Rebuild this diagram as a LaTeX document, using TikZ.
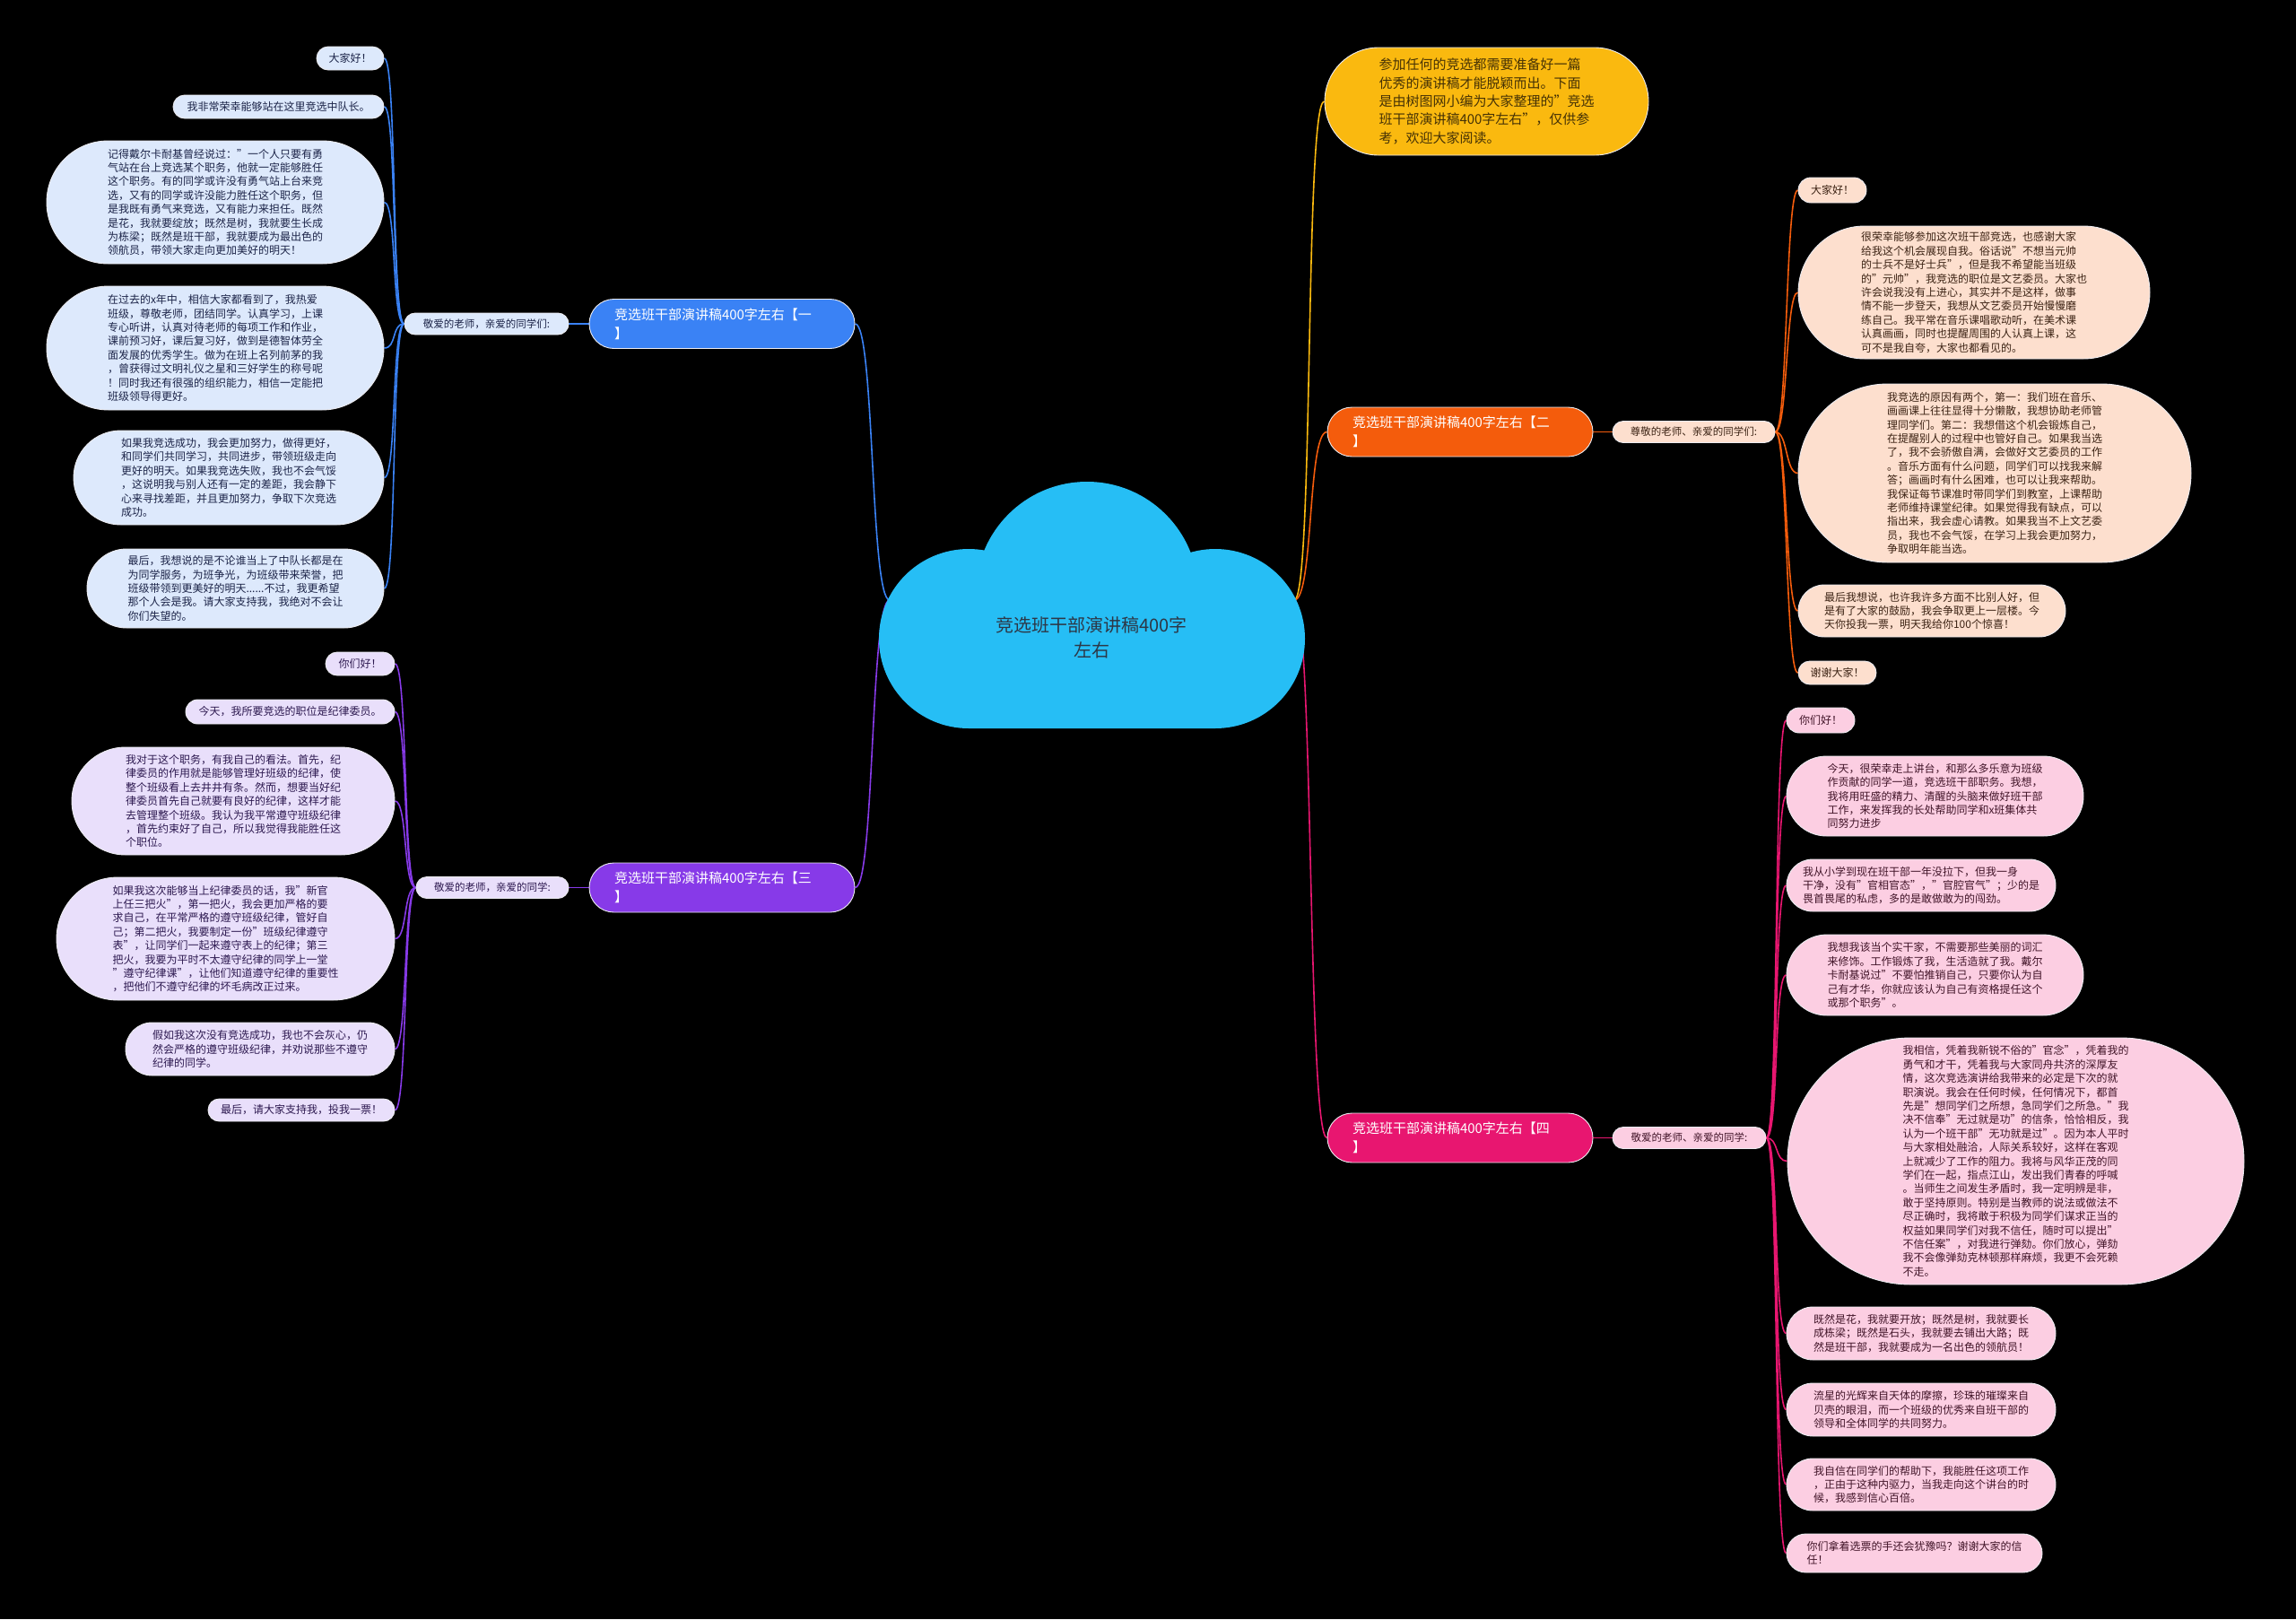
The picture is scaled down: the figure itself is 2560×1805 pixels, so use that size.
\documentclass[tikz,border=0pt]{standalone}
\usepackage{fontspec}
\setmainfont{Noto Sans CJK SC}
\usetikzlibrary{backgrounds}
\definecolor{cloudc}{RGB}{38,190,245}
\definecolor{rootink}{RGB}{45,55,70}
\definecolor{introc}{RGB}{250,185,15}
\definecolor{introink}{RGB}{70,50,5}
\definecolor{bluebr}{RGB}{58,130,245}
\definecolor{bluelf}{RGB}{221,233,252}
\definecolor{blueink}{RGB}{28,36,72}
\definecolor{purpbr}{RGB}{135,58,232}
\definecolor{purplf}{RGB}{233,223,251}
\definecolor{purpink}{RGB}{45,25,80}
\definecolor{orgbr}{RGB}{244,92,12}
\definecolor{orglf}{RGB}{253,223,206}
\definecolor{orgink}{RGB}{60,35,20}
\definecolor{pinkbr}{RGB}{232,22,112}
\definecolor{pinklf}{RGB}{252,206,226}
\definecolor{pinkink}{RGB}{65,20,40}
\definecolor{rimc}{RGB}{235,235,240}
\tikzset{
  pill/.style 2 args={draw=rimc,line width=0.9pt,minimum width=#1,minimum height=#2,
    rounded corners=#2*0.5,inner sep=0pt,align=left},
  leaf/.style={font=\fontsize{12}{15.4}\selectfont},
  blueleaf/.style={leaf,fill=bluelf,text=blueink},
  purpleaf/.style={leaf,fill=purplf,text=purpink},
  orgleaf/.style={leaf,fill=orglf,text=orgink},
  pinkleaf/.style={leaf,fill=pinklf,text=pinkink},
  branch/.style={pill={296}{55},fill=#1,text=white,text width=240,
    font=\fontsize{15}{21}\selectfont},
  sublabel/.style={font=\fontsize{11.5}{13}\selectfont},
  link/.style={draw=#1,line width=1.6pt},
}

\begin{document}
\begin{tikzpicture}[x=1pt,y=-1pt]
  \useasboundingbox (0,0) rectangle (2560,1805);
  % cloud (root)
  \fill[cloudc] (1080,712) circle[radius=100pt] (1355,712) circle[radius=100pt]
    (1212,661) circle[radius=124pt] (1080,640) rectangle (1355,812);
  \node[font=\fontsize{20}{28}\selectfont,text=rootink,align=center] (root) at (1217,711)
    {竞选班干部演讲稿400字\\左右};
  \coordinate (rootW) at (992,669);
  \coordinate (rootE) at (1443,669);
  % intro
  \node[pill={361}{120},fill=introc,text=introink,font=\fontsize{15}{20.4}\selectfont] (intro) at (1657.5,113)
    {参加任何的竞选都需要准备好一篇\\优秀的演讲稿才能脱颖而出。下面\\是由树图网小编为大家整理的"竞选\\班干部演讲稿400字左右"，仅供参\\考，欢迎大家阅读。};
  % branches
  \node[branch=bluebr] (brA) at (805,361) {竞选班干部演讲稿400字左右【一\\】};
  \node[branch=orgbr] (brB) at (1628,481.5) {竞选班干部演讲稿400字左右【二\\】};
  \node[branch=purpbr] (brC) at (805,989.5) {竞选班干部演讲稿400字左右【三\\】};
  \node[branch=pinkbr] (brD) at (1628,1268.5) {竞选班干部演讲稿400字左右【四\\】};
  % greetings
  \node[pill={183}{24},sublabel,fill=bluelf,text=blueink] (subA) at (542.5,361) {敬爱的老师，亲爱的同学们:};
  \node[pill={181}{24},sublabel,fill=orglf,text=orgink] (subB) at (1888.5,481.5) {尊敬的老师、亲爱的同学们:};
  \node[pill={170}{24},sublabel,fill=purplf,text=purpink] (subC) at (549,989.5) {敬爱的老师，亲爱的同学:};
  \node[pill={171}{24},sublabel,fill=pinklf,text=pinkink] (subD) at (1883.5,1268.5) {敬爱的老师、亲爱的同学:};
  % branch one leaves
  \node[pill={75}{26},blueleaf] (lA1) at (390.5,65) {大家好！};
  \node[pill={235}{26},blueleaf] (lA2) at (310.5,119) {我非常荣幸能够站在这里竞选中队长。};
  \node[pill={376}{137},blueleaf] (lA3) at (240,225.5)
    {记得戴尔卡耐基曾经说过："一个人只要有勇\\气站在台上竞选某个职务，他就一定能够胜任\\这个职务。有的同学或许没有勇气站上台来竞\\选，又有的同学或许没能力胜任这个职务，但\\是我既有勇气来竞选，又有能力来担任。既然\\是花，我就要绽放；既然是树，我就要生长成\\为栋梁；既然是班干部，我就要成为最出色的\\领航员，带领大家走向更加美好的明天！};
  \node[pill={376}{138},blueleaf] (lA4) at (240,388)
    {在过去的x年中，相信大家都看到了，我热爱\\班级，尊敬老师，团结同学。认真学习，上课\\专心听讲，认真对待老师的每项工作和作业，\\课前预习好，课后复习好，做到是德智体劳全\\面发展的优秀学生。做为在班上名列前茅的我\\，曾获得过文明礼仪之星和三好学生的称号呢\\！同时我还有很强的组织能力，相信一定能把\\班级领导得更好。};
  \node[pill={346}{105},blueleaf] (lA5) at (255,532.5)
    {如果我竞选成功，我会更加努力，做得更好，\\和同学们共同学习，共同进步，带领班级走向\\更好的明天。如果我竞选失败，我也不会气馁\\，这说明我与别人还有一定的差距，我会静下\\心来寻找差距，并且更加努力，争取下次竞选\\成功。};
  \node[pill={331}{88},blueleaf] (lA6) at (262.5,656)
    {最后，我想说的是不论谁当上了中队长都是在\\为同学服务，为班争光，为班级带来荣誉，把\\班级带领到更美好的明天......不过，我更希望\\那个人会是我。请大家支持我，我绝对不会让\\你们失望的。};
  % branch three leaves
  \node[pill={77}{26},purpleaf] (lC1) at (401.5,740) {你们好！};
  \node[pill={233}{27},purpleaf] (lC2) at (323.5,793.5) {今天，我所要竞选的职位是纪律委员。};
  \node[pill={360}{120},purpleaf] (lC3) at (260,893)
    {我对于这个职务，有我自己的看法。首先，纪\\律委员的作用就是能够管理好班级的纪律，使\\整个班级看上去井井有条。然而，想要当好纪\\律委员首先自己就要有良好的纪律，这样才能\\去管理整个班级。我认为我平常遵守班级纪律\\，首先约束好了自己，所以我觉得我能胜任这\\个职位。};
  \node[pill={377}{137},purpleaf] (lC4) at (251.5,1046.5)
    {如果我这次能够当上纪律委员的话，我"新官\\上任三把火"，第一把火，我会更加严格的要\\求自己，在平常严格的遵守班级纪律，管好自\\己；第二把火，我要制定一份"班级纪律遵守\\表"，让同学们一起来遵守表上的纪律；第三\\把火，我要为平时不太遵守纪律的同学上一堂\\"遵守纪律课"，让他们知道遵守纪律的重要性\\，把他们不遵守纪律的坏毛病改正过来。};
  \node[pill={300}{59},purpleaf] (lC5) at (290,1169.5)
    {假如我这次没有竞选成功，我也不会灰心，仍\\然会严格的遵守班级纪律，并劝说那些不遵守\\纪律的同学。};
  \node[pill={208}{25},purpleaf] (lC6) at (336,1237.5) {最后，请大家支持我，投我一票！};
  % branch two leaves
  \node[pill={76}{28},orgleaf] (lB1) at (2043,212) {大家好！};
  \node[pill={392}{148},orgleaf] (lB2) at (2201,326)
    {很荣幸能够参加这次班干部竞选，也感谢大家\\给我这个机会展现自我。俗话说"不想当元帅\\的士兵不是好士兵"，但是我不希望能当班级\\的"元帅"，我竞选的职位是文艺委员。大家也\\许会说我没有上进心，其实并不是这样，做事\\情不能一步登天，我想从文艺委员开始慢慢磨\\练自己。我平常在音乐课唱歌动听，在美术课\\认真画画，同时也提醒周围的人认真上课，这\\可不是我自夸，大家也都看见的。};
  \node[pill={438}{199},orgleaf] (lB3) at (2224,527.5)
    {我竞选的原因有两个，第一：我们班在音乐、\\画画课上往往显得十分懒散，我想协助老师管\\理同学们。第二：我想借这个机会锻炼自己，\\在提醒别人的过程中也管好自己。如果我当选\\了，我不会骄傲自满，会做好文艺委员的工作\\。音乐方面有什么问题，同学们可以找我来解\\答；画画时有什么困难，也可以让我来帮助。\\我保证每节课准时带同学们到教室，上课帮助\\老师维持课堂纪律。如果觉得我有缺点，可以\\指出来，我会虚心请教。如果我当不上文艺委\\员，我也不会气馁，在学习上我会更加努力，\\争取明年能当选。};
  \node[pill={298}{58},orgleaf] (lB4) at (2154,681)
    {最后我想说，也许我许多方面不比别人好，但\\是有了大家的鼓励，我会争取更上一层楼。今\\天你投我一票，明天我给你100个惊喜！};
  \node[pill={87}{26},orgleaf] (lB5) at (2048.5,750) {谢谢大家！};
  % branch four leaves
  \node[pill={76}{28},pinkleaf] (lD1) at (2030,803) {你们好！};
  \node[pill={331}{89},pinkleaf] (lD2) at (2157.5,887.5)
    {今天，很荣幸走上讲台，和那么多乐意为班级\\作贡献的同学一道，竞选班干部职务。我想，\\我将用旺盛的精力、清醒的头脑来做好班干部\\工作，来发挥我的长处帮助同学和x班集体共\\同努力进步};
  \node[pill={300}{58},pinkleaf] (lD3) at (2142,987)
    {我从小学到现在班干部一年没拉下，但我一身\\干净，没有"官相官态"，"官腔官气"；少的是\\畏首畏尾的私虑，多的是敢做敢为的闯劲。};
  \node[pill={331}{90},pinkleaf] (lD4) at (2157.5,1087)
    {我想我该当个实干家，不需要那些美丽的词汇\\来修饰。工作锻炼了我，生活造就了我。戴尔\\卡耐基说过"不要怕推销自己，只要你认为自\\己有才华，你就应该认为自己有资格提任这个\\或那个职务"。};
  \node[pill={509}{275},pinkleaf] (lD5) at (2247.5,1294.5)
    {我相信，凭着我新锐不俗的"官念"，凭着我的\\勇气和才干，凭着我与大家同舟共济的深厚友\\情，这次竞选演讲给我带来的必定是下次的就\\职演说。我会在任何时候，任何情况下，都首\\先是"想同学们之所想，急同学们之所急。"我\\决不信奉"无过就是功"的信条，恰恰相反，我\\认为一个班干部"无功就是过"。因为本人平时\\与大家相处融洽，人际关系较好，这样在客观\\上就减少了工作的阻力。我将与风华正茂的同\\学们在一起，指点江山，发出我们青春的呼喊\\。当师生之间发生矛盾时，我一定明辨是非，\\敢于坚持原则。特别是当教师的说法或做法不\\尽正确时，我将敢于积极为同学们谋求正当的\\权益如果同学们对我不信任，随时可以提出"\\不信任案"，对我进行弹劾。你们放心，弹劾\\我不会像弹劾克林顿那样麻烦，我更不会死赖\\不走。};
  \node[pill={300}{59},pinkleaf] (lD6) at (2142,1486.5)
    {既然是花，我就要开放；既然是树，我就要长\\成栋梁；既然是石头，我就要去铺出大路；既\\然是班干部，我就要成为一名出色的领航员！};
  \node[pill={300}{59},pinkleaf] (lD7) at (2142,1571.5)
    {流星的光辉来自天体的摩擦，珍珠的璀璨来自\\贝壳的眼泪，而一个班级的优秀来自班干部的\\领导和全体同学的共同努力。};
  \node[pill={300}{58},pinkleaf] (lD8) at (2142,1655)
    {我自信在同学们的帮助下，我能胜任这项工作\\，正由于这种内驱力，当我走向这个讲台的时\\候，我感到信心百倍。};
  \node[pill={285}{43},pinkleaf] (lD9) at (2134.5,1731.5)
    {你们拿着选票的手还会犹豫吗？谢谢大家的信\\任！};
  % connectors (behind everything)
  \begin{scope}[on background layer]
    \fill[black] (0,0) rectangle (2560,1805);
    \draw[link=introc] (rootE) .. controls +(22,0) and +(-22,0) .. (intro.west);
    \draw[link=orgbr] (rootE) .. controls +(22,0) and +(-22,0) .. (brB.west);
    \draw[link=pinkbr] (rootE) .. controls +(22,0) and +(-22,0) .. (brD.west);
    \draw[link=bluebr] (rootW) .. controls +(-22,0) and +(22,0) .. (brA.east);
    \draw[link=purpbr] (rootW) .. controls +(-22,0) and +(22,0) .. (brC.east);
    \draw[link=bluebr] (brA.west) -- (subA.east);
    \draw[link=orgbr] (brB.east) -- (subB.west);
    \draw[link=purpbr] (brC.west) -- (subC.east);
    \draw[link=pinkbr] (brD.east) -- (subD.west);
    \foreach \n in {lA1,lA2,lA3,lA4,lA5,lA6}
      \draw[link=bluebr] (subA.west) .. controls +(-14,0) and +(14,0) .. (\n.east);
    \foreach \n in {lC1,lC2,lC3,lC4,lC5,lC6}
      \draw[link=purpbr] (subC.west) .. controls +(-14,0) and +(14,0) .. (\n.east);
    \foreach \n in {lB1,lB2,lB3,lB4,lB5}
      \draw[link=orgbr] (subB.east) .. controls +(14,0) and +(-14,0) .. (\n.west);
    \foreach \n in {lD1,lD2,lD3,lD4,lD5,lD6,lD7,lD8,lD9}
      \draw[link=pinkbr] (subD.east) .. controls +(14,0) and +(-14,0) .. (\n.west);
  \end{scope}
\end{tikzpicture}
\end{document}
